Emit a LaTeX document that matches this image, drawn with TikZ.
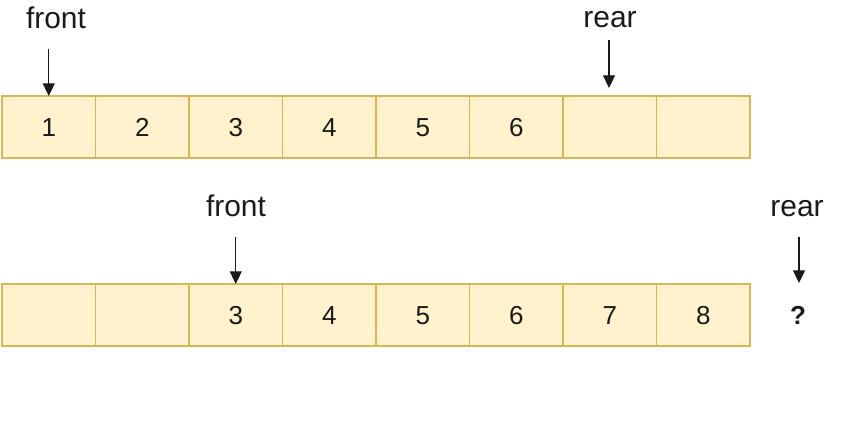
\documentclass[tikz,border=0pt]{standalone}
\usepackage{fontspec}
\setmainfont{Liberation Sans}
\usetikzlibrary{arrows.meta}
\definecolor{cellfill}{HTML}{FFF2CC}
\definecolor{celldraw}{HTML}{D6B656}
\definecolor{ink}{HTML}{1A1A1A}
\tikzset{
  cell/.style={draw=celldraw, fill=cellfill, line width=0.9pt,
    minimum width=2.3375cm, minimum height=1.55cm, inner sep=0pt, outer sep=0pt,
    text height=13.2pt, text depth=0pt, text=ink,
    font=\fontsize{18.5}{20}\selectfont},
  ptrlabel/.style={anchor=base, inner sep=0pt, text=ink, font=\fontsize{21.3}{24}\selectfont},
  ptr/.style={-{Triangle[width=8.5pt,length=9pt]}, line width=0.9pt, draw=ink}
}
\begin{document}
\begin{tikzpicture}[x=0.025cm, y=-0.025cm]
  \useasboundingbox (0,0) rectangle (845,431);

  % top queue
  \foreach \i/\v in {1/1,2/2,3/3,4/4,5/5,6/6,7/,8/}
    \node[cell] (a\i) at ({2+93.5*(\i-0.5)}, 127) {\v};

  % bottom queue
  \foreach \i/\v in {1/,2/,3/3,4/4,5/5,6/6,7/7,8/8}
    \node[cell] (b\i) at ({2+93.5*(\i-0.5)}, 315) {\v};

  % pointers, top
  \node[ptrlabel] (front1) at (56, 29) {front};
  \node[ptrlabel] (rear1) at (610, 28) {rear};
  \coordinate (f1s) at (48.75, 49);
  \coordinate (r1s) at (609, 40);
  \coordinate (r1e) at (609, 88);
  \draw[ptr] (f1s) -- (a1.north);
  \draw[ptr] (r1s) -- (r1e);

  % pointers, bottom
  \node[ptrlabel] (front2) at (236, 217) {front};
  \node[ptrlabel] (rear2) at (797, 217) {rear};
  \node[text=ink, font=\fontsize{18.5}{20}\selectfont\bfseries] (qm) at (798, 315) {?};
  \coordinate (f2s) at (235.75, 237);
  \coordinate (r2s) at (799, 237);
  \coordinate (r2e) at (799, 283);
  \draw[ptr] (f2s) -- (b3.north);
  \draw[ptr] (r2s) -- (r2e);
\end{tikzpicture}
\end{document}
